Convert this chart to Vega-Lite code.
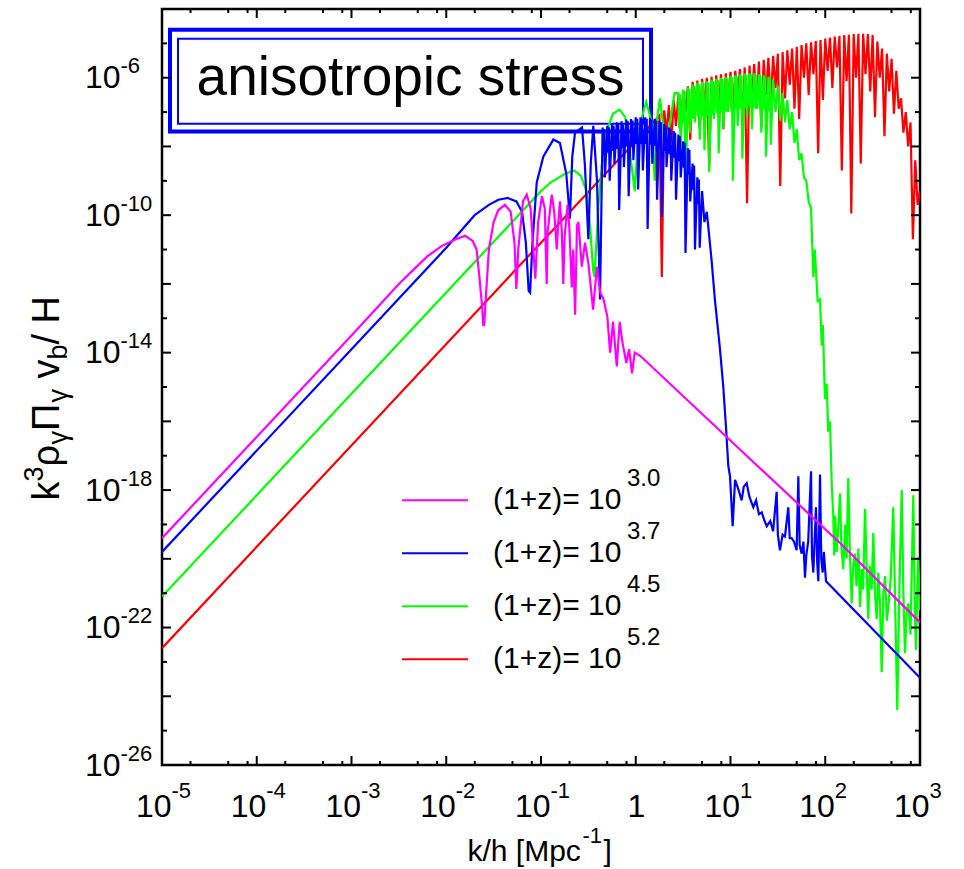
{
"$schema": "https://vega.github.io/schema/vega-lite/v6.json",
"width": 758, "height": 756,
"autosize": {"type": "none"},
"padding": {"left": 162, "top": 9, "right": 44, "bottom": 104},
"background": "white",
"config": {"font": "Liberation Sans", "view": {"stroke": "black", "strokeWidth": 2.5}, "axis": {"labelColor": "black", "titleColor": "black", "tickColor": "black", "grid": false, "titleFontWeight": "normal", "labelFont": "Liberation Sans", "titleFont": "Liberation Sans"}, "legend": {"labelColor": "black", "labelFont": "Liberation Sans"}},
"datasets": {
"exps": [{"e":"3.0"},{"e":"3.7"},{"e":"4.5"},{"e":"5.2"}],
"xmaj": [{"t":1e-5},{"t":1e-4},{"t":1e-3},{"t":0.01},{"t":0.1},{"t":1},{"t":10},{"t":100},{"t":1000}],
"xmin": [{"t":2e-5},{"t":5e-5},{"t":8e-5},{"t":2e-4},{"t":5e-4},{"t":8e-4},{"t":0.002},{"t":0.005},{"t":0.008},{"t":0.02},{"t":0.05},{"t":0.08},{"t":0.2},{"t":0.5},{"t":0.8},{"t":2},{"t":5},{"t":8},{"t":20},{"t":50},{"t":80},{"t":200},{"t":500},{"t":800}],
"ymaj": [{"t":1e-26},{"t":1e-24},{"t":1e-22},{"t":1e-20},{"t":1e-18},{"t":1e-16},{"t":1e-14},{"t":1e-12},{"t":1e-10},{"t":1e-8},{"t":1e-6},{"t":1e-4}],
"ymin": [{"t":1e-25},{"t":1e-23},{"t":1e-21},{"t":1e-19},{"t":1e-17},{"t":1e-15},{"t":1e-13},{"t":1e-11},{"t":1e-9},{"t":1e-7},{"t":1e-5}],
"curves": [
{"z":"5.2","k":1e-5,"v":2.512e-23},{"z":"5.2","k":0.1,"v":1.585e-11},{"z":"5.2","k":0.3162,"v":4.732e-10},{"z":"5.2","k":1,"v":1.413e-8},
{"z":"5.2","k":1.778,"v":7.943e-8},{"z":"5.2","k":1.884,"v":1.585e-12},{"z":"5.2","k":1.995,"v":1.122e-7},{"z":"5.2","k":2.113,"v":2.512e-8},{"z":"5.2","k":2.239,"v":1.585e-7},{"z":"5.2","k":2.371,"v":1.259e-8},{"z":"5.2","k":2.512,"v":2.239e-7},{"z":"5.2","k":2.661,"v":3.981e-8},{"z":"5.2","k":2.818,"v":3.162e-7},{"z":"5.2","k":2.985,"v":2.512e-8},
{"z":"5.2","k":3.162,"v":4.467e-7},{"z":"5.2","k":3.35,"v":1e-7},{"z":"5.2","k":3.548,"v":5.623e-7},{"z":"5.2","k":3.758,"v":1.585e-8},{"z":"5.2","k":3.981,"v":7.586e-7},{"z":"5.2","k":4.217,"v":1.259e-7},{"z":"5.2","k":4.467,"v":8.318e-7},{"z":"5.2","k":4.732,"v":3.162e-8},{"z":"5.2","k":5.012,"v":9.333e-7},{"z":"5.2","k":5.309,"v":1.585e-7},
{"z":"5.2","k":5.623,"v":1e-6},{"z":"5.2","k":5.957,"v":2.512e-9},{"z":"5.2","k":6.31,"v":1.072e-6},{"z":"5.2","k":6.683,"v":1.259e-7},{"z":"5.2","k":7.079,"v":1.175e-6},{"z":"5.2","k":7.499,"v":1e-7},{"z":"5.2","k":7.943,"v":1.259e-6},{"z":"5.2","k":8.414,"v":3.162e-8},{"z":"5.2","k":8.913,"v":1.349e-6},{"z":"5.2","k":9.441,"v":2.512e-7},
{"z":"5.2","k":10,"v":1.479e-6},{"z":"5.2","k":10.59,"v":7.943e-8},{"z":"5.2","k":11.22,"v":1.585e-6},{"z":"5.2","k":11.89,"v":3.162e-7},{"z":"5.2","k":12.59,"v":1.778e-6},{"z":"5.2","k":13.34,"v":6.31e-8},{"z":"5.2","k":14.13,"v":1.995e-6},{"z":"5.2","k":14.96,"v":2.239e-10},{"z":"5.2","k":15.85,"v":2.239e-6},{"z":"5.2","k":16.79,"v":2.512e-7},
{"z":"5.2","k":17.78,"v":2.512e-6},{"z":"5.2","k":18.84,"v":1.259e-7},{"z":"5.2","k":19.95,"v":2.951e-6},{"z":"5.2","k":21.13,"v":3.548e-8},{"z":"5.2","k":22.39,"v":3.311e-6},{"z":"5.2","k":23.71,"v":3.162e-7},{"z":"5.2","k":25.12,"v":3.802e-6},{"z":"5.2","k":26.61,"v":1.585e-7},{"z":"5.2","k":28.18,"v":4.365e-6},{"z":"5.2","k":29.85,"v":5.012e-7},
{"z":"5.2","k":31.62,"v":5.012e-6},{"z":"5.2","k":33.5,"v":7.079e-10},{"z":"5.2","k":35.48,"v":5.623e-6},{"z":"5.2","k":37.58,"v":2.512e-7},{"z":"5.2","k":39.81,"v":6.31e-6},{"z":"5.2","k":42.17,"v":6.31e-7},{"z":"5.2","k":44.67,"v":7.079e-6},{"z":"5.2","k":47.32,"v":1.259e-7},{"z":"5.2","k":50.12,"v":7.943e-6},{"z":"5.2","k":53.09,"v":6.31e-8},
{"z":"5.2","k":56.23,"v":8.913e-6},{"z":"5.2","k":59.57,"v":1e-6},{"z":"5.2","k":63.1,"v":1e-5},{"z":"5.2","k":66.83,"v":3.162e-7},{"z":"5.2","k":70.79,"v":1.072e-5},{"z":"5.2","k":74.99,"v":1.259e-6},{"z":"5.2","k":79.43,"v":1.175e-5},{"z":"5.2","k":84.14,"v":6.31e-9},{"z":"5.2","k":89.13,"v":1.259e-5},{"z":"5.2","k":94.41,"v":2.239e-7},
{"z":"5.2","k":100,"v":1.38e-5},{"z":"5.2","k":105.9,"v":1.585e-6},{"z":"5.2","k":112.2,"v":1.479e-5},{"z":"5.2","k":118.9,"v":5.012e-7},{"z":"5.2","k":125.9,"v":1.585e-5},{"z":"5.2","k":133.4,"v":1.995e-6},{"z":"5.2","k":141.3,"v":1.66e-5},{"z":"5.2","k":149.6,"v":1.995e-9},{"z":"5.2","k":158.5,"v":1.738e-5},{"z":"5.2","k":167.9,"v":7.943e-7},
{"z":"5.2","k":177.8,"v":1.778e-5},{"z":"5.2","k":188.4,"v":1.122e-10},{"z":"5.2","k":199.5,"v":1.862e-5},{"z":"5.2","k":211.3,"v":1e-6},{"z":"5.2","k":223.9,"v":1.905e-5},{"z":"5.2","k":237.1,"v":3.162e-9},{"z":"5.2","k":251.2,"v":1.905e-5},{"z":"5.2","k":266.1,"v":1.259e-6},{"z":"5.2","k":281.8,"v":1.862e-5},{"z":"5.2","k":298.5,"v":3.981e-7},
{"z":"5.2","k":316.2,"v":1.738e-5},{"z":"5.2","k":335,"v":7.079e-8},{"z":"5.2","k":354.8,"v":1.122e-5},{"z":"5.2","k":375.8,"v":1e-6},{"z":"5.2","k":398.1,"v":7.079e-6},{"z":"5.2","k":421.7,"v":1.995e-8},{"z":"5.2","k":446.7,"v":5.012e-6},{"z":"5.2","k":473.2,"v":3.981e-7},{"z":"5.2","k":501.2,"v":3.548e-6},{"z":"5.2","k":530.9,"v":8.913e-8},
{"z":"5.2","k":562.3,"v":1.585e-6},{"z":"5.2","k":595.7,"v":1.259e-7},{"z":"5.2","k":631,"v":2.512e-7},{"z":"5.2","k":668.3,"v":2.512e-8},{"z":"5.2","k":707.9,"v":1e-7},{"z":"5.2","k":749.9,"v":1e-8},{"z":"5.2","k":794.3,"v":5.012e-8},{"z":"5.2","k":841.4,"v":1.995e-11},{"z":"5.2","k":891.3,"v":3.981e-9},{"z":"5.2","k":944.1,"v":1.995e-10},{"z":"5.2","k":1000,"v":5.012e-10},

{"z":"4.5","k":1e-5,"v":7.943e-22},{"z":"4.5","k":1e-3,"v":6.31e-16},{"z":"4.5","k":0.1,"v":5.012e-10},{"z":"4.5","k":0.1259,"v":8.913e-10},{"z":"4.5","k":0.1778,"v":1.585e-9},{"z":"4.5","k":0.2239,"v":1.995e-9},{"z":"4.5","k":0.263,"v":1.413e-9},{"z":"4.5","k":0.302,"v":5.012e-10},{"z":"4.5","k":0.3311,"v":3.981e-11},{"z":"4.5","k":0.3548,"v":2.512e-12},
{"z":"4.5","k":0.3673,"v":1.585e-12},{"z":"4.5","k":0.4027,"v":1.778e-10},{"z":"4.5","k":0.4467,"v":5.012e-9},{"z":"4.5","k":0.5012,"v":3.162e-8},{"z":"4.5","k":0.5754,"v":8.913e-8},{"z":"4.5","k":0.6761,"v":1.175e-7},{"z":"4.5","k":0.7762,"v":7.079e-8},{"z":"4.5","k":0.8511,"v":1e-8},{"z":"4.5","k":0.9772,"v":5.012e-10},{"z":"4.5","k":1.072,"v":3.162e-8},
{"z":"4.5","k":1.288,"v":1.995e-7},{"z":"4.5","k":1.479,"v":5.012e-8},{"z":"4.5","k":1.585,"v":1e-9},{"z":"4.5","k":1.679,"v":6.31e-8},{"z":"4.5","k":1.8,"v":2.512e-7},{"z":"4.5","k":1.95,"v":3.981e-8},{"z":"4.5","k":2.042,"v":6.31e-9},{"z":"4.5","k":2.57,"v":3.548e-7},
{"z":"4.5","k":2.818,"v":3.548e-7},{"z":"4.5","k":2.985,"v":1e-8},{"z":"4.5","k":3.162,"v":4.467e-7},{"z":"4.5","k":3.35,"v":2.818e-10},{"z":"4.5","k":3.548,"v":5.248e-7},{"z":"4.5","k":3.758,"v":2.512e-8},{"z":"4.5","k":3.981,"v":6.31e-7},{"z":"4.5","k":4.217,"v":5.012e-8},{"z":"4.5","k":4.467,"v":7.079e-7},{"z":"4.5","k":4.732,"v":1.585e-8},
{"z":"4.5","k":5.012,"v":7.586e-7},{"z":"4.5","k":5.309,"v":7.943e-9},{"z":"4.5","k":5.623,"v":7.943e-7},{"z":"4.5","k":5.957,"v":1.778e-9},{"z":"4.5","k":6.31,"v":8.71e-7},{"z":"4.5","k":6.683,"v":6.31e-8},{"z":"4.5","k":7.079,"v":9.333e-7},{"z":"4.5","k":7.499,"v":6.31e-9},{"z":"4.5","k":7.943,"v":1e-6},{"z":"4.5","k":8.414,"v":3.162e-8},
{"z":"4.5","k":8.913,"v":1.047e-6},{"z":"4.5","k":9.441,"v":1e-7},{"z":"4.5","k":10,"v":1.122e-6},{"z":"4.5","k":10.59,"v":1e-9},{"z":"4.5","k":11.22,"v":1.175e-6},{"z":"4.5","k":11.89,"v":3.981e-8},{"z":"4.5","k":12.59,"v":1.259e-6},{"z":"4.5","k":13.34,"v":4.467e-9},{"z":"4.5","k":14.13,"v":1.318e-6},{"z":"4.5","k":14.96,"v":7.943e-8},
{"z":"4.5","k":15.85,"v":1.349e-6},{"z":"4.5","k":16.79,"v":3.162e-8},{"z":"4.5","k":17.78,"v":1.349e-6},{"z":"4.5","k":18.84,"v":1.259e-7},{"z":"4.5","k":19.95,"v":1.259e-6},{"z":"4.5","k":21.13,"v":2.512e-8},{"z":"4.5","k":22.39,"v":1.175e-6},{"z":"4.5","k":23.71,"v":5.012e-9},{"z":"4.5","k":25.12,"v":1.072e-6},{"z":"4.5","k":26.61,"v":1.122e-8},
{"z":"4.5","k":28.18,"v":8.913e-7},{"z":"4.5","k":29.85,"v":1e-7},{"z":"4.5","k":31.62,"v":5.623e-7},{"z":"4.5","k":33.5,"v":5.623e-8},{"z":"4.5","k":35.48,"v":3.548e-7},{"z":"4.5","k":37.58,"v":5.012e-8},{"z":"4.5","k":39.81,"v":2.239e-7},{"z":"4.5","k":42.17,"v":3.162e-8},{"z":"4.5","k":44.67,"v":1e-7},{"z":"4.5","k":47.32,"v":1.259e-8},
{"z":"4.5","k":50.12,"v":3.162e-8},{"z":"4.5","k":53.09,"v":3.981e-9},{"z":"4.5","k":56.23,"v":6.31e-9},{"z":"4.5","k":59.57,"v":1.259e-9},{"z":"4.5","k":63.1,"v":1e-9},{"z":"4.5","k":66.83,"v":2.512e-10},{"z":"4.5","k":70.79,"v":1.585e-10},
{"z":"4.5","k":2.87,"v":3.5e-8},{"z":"4.5","k":2.924,"v":3.3e-7},{"z":"4.5","k":3.221,"v":4.5e-8},{"z":"4.5","k":3.281,"v":4.1e-7},{"z":"4.5","k":3.614,"v":5.2e-8},{"z":"4.5","k":3.681,"v":4.8e-7},{"z":"4.5","k":4.055,"v":6.3e-8},{"z":"4.5","k":4.13,"v":5.8e-7},{"z":"4.5","k":4.55,"v":7.1e-8},{"z":"4.5","k":4.635,"v":6.5e-7},
{"z":"4.5","k":5.105,"v":7.6e-8},{"z":"4.5","k":5.2,"v":7e-7},{"z":"4.5","k":5.728,"v":7.9e-8},{"z":"4.5","k":5.834,"v":7.3e-7},{"z":"4.5","k":6.427,"v":8.7e-8},{"z":"4.5","k":6.547,"v":8e-7},{"z":"4.5","k":7.211,"v":9.3e-8},{"z":"4.5","k":7.344,"v":8.6e-7},{"z":"4.5","k":8.091,"v":1e-7},{"z":"4.5","k":8.241,"v":9.2e-7},
{"z":"4.5","k":9.079,"v":1.05e-7},{"z":"4.5","k":9.247,"v":9.6e-7},{"z":"4.5","k":10.19,"v":1.1e-7},{"z":"4.5","k":10.37,"v":1.03e-6},{"z":"4.5","k":11.43,"v":1.2e-7},{"z":"4.5","k":11.64,"v":1.08e-6},{"z":"4.5","k":12.82,"v":1.26e-7},{"z":"4.5","k":13.06,"v":1.16e-6},{"z":"4.5","k":14.39,"v":1.3e-7},{"z":"4.5","k":14.66,"v":1.21e-6},
{"z":"4.5","k":16.14,"v":1.35e-7},{"z":"4.5","k":16.44,"v":1.24e-6},{"z":"4.5","k":18.11,"v":1.35e-7},{"z":"4.5","k":18.45,"v":1.24e-6},{"z":"4.5","k":20.32,"v":1.26e-7},{"z":"4.5","k":20.7,"v":1.16e-6},{"z":"4.5","k":22.81,"v":1.2e-7},{"z":"4.5","k":23.23,"v":1.08e-6},{"z":"4.5","k":25.59,"v":1.07e-7},{"z":"4.5","k":26.06,"v":9.9e-7},
{"z":"4.5","k":74.82,"v":1.585e-12},{"z":"4.5","k":77.62,"v":1e-11},{"z":"4.5","k":83.18,"v":3.162e-13},{"z":"4.5","k":88.1,"v":3.548e-13},{"z":"4.5","k":91.83,"v":1.585e-14},{"z":"4.5","k":94.41,"v":6.31e-14},{"z":"4.5","k":99.31,"v":4.467e-16},{"z":"4.5","k":103.5,"v":1.259e-15},{"z":"4.5","k":107.6,"v":5.012e-17},{"z":"4.5","k":112.2,"v":1e-16},{"z":"4.5","k":117,"v":1.585e-18},{"z":"4.5","k":121.6,"v":1.778e-19},
{"z":"4.5","k":124.5,"v":1.259e-20},{"z":"4.5","k":126.8,"v":1.778e-19},{"z":"4.5","k":131.8,"v":1.585e-20},{"z":"4.5","k":136.5,"v":6.31e-20},{"z":"4.5","k":143.2,"v":7.943e-19},{"z":"4.5","k":147.9,"v":2.512e-20},{"z":"4.5","k":154.9,"v":5.012e-21},{"z":"4.5","k":162.2,"v":1e-19},{"z":"4.5","k":167.9,"v":1e-20},{"z":"4.5","k":175,"v":2.239e-18},
{"z":"4.5","k":182,"v":1.585e-20},{"z":"4.5","k":190.1,"v":5.012e-22},{"z":"4.5","k":197.2,"v":6.31e-21},{"z":"4.5","k":206.1,"v":1.413e-20},{"z":"4.5","k":213.8,"v":1.585e-21},{"z":"4.5","k":223.9,"v":1.995e-20},{"z":"4.5","k":232.8,"v":3.981e-22},{"z":"4.5","k":242.7,"v":5.012e-21},{"z":"4.5","k":251.2,"v":1.259e-21},{"z":"4.5","k":263,"v":2.818e-19},
{"z":"4.5","k":275.4,"v":3.162e-21},{"z":"4.5","k":284.4,"v":1.778e-22},{"z":"4.5","k":295.1,"v":6.31e-21},{"z":"4.5","k":309,"v":1.259e-21},{"z":"4.5","k":321.4,"v":5.623e-20},{"z":"4.5","k":335,"v":1e-21},{"z":"4.5","k":349.1,"v":1.778e-22},{"z":"4.5","k":363.1,"v":3.981e-21},{"z":"4.5","k":378.4,"v":5.012e-22},{"z":"4.5","k":394.5,"v":5.012e-24},
{"z":"4.5","k":410.2,"v":1e-21},{"z":"4.5","k":427.6,"v":3.162e-21},{"z":"4.5","k":446.7,"v":1.585e-22},{"z":"4.5","k":463.4,"v":3.981e-22},{"z":"4.5","k":489.8,"v":2.512e-21},{"z":"4.5","k":522.4,"v":3.162e-19},{"z":"4.5","k":549.5,"v":2.512e-22},{"z":"4.5","k":575.4,"v":3.981e-25},{"z":"4.5","k":602.6,"v":6.31e-22},{"z":"4.5","k":641.2,"v":1e-18},
{"z":"4.5","k":668.3,"v":1e-21},{"z":"4.5","k":695,"v":1.778e-23},{"z":"4.5","k":724.4,"v":3.162e-22},{"z":"4.5","k":753.4,"v":5.012e-22},{"z":"4.5","k":794.3,"v":6.31e-23},{"z":"4.5","k":849.2,"v":7.079e-19},{"z":"4.5","k":881,"v":3.162e-22},{"z":"4.5","k":907.8,"v":2.239e-23},{"z":"4.5","k":933.3,"v":1e-21},{"z":"4.5","k":959.4,"v":1.122e-20},{"z":"4.5","k":1000,"v":3.162e-22},

{"z":"3.7","k":1e-5,"v":1.585e-20},{"z":"3.7","k":1e-3,"v":1.259e-14},{"z":"3.7","k":0.01,"v":1.122e-11},{"z":"3.7","k":0.01995,"v":1e-10},{"z":"3.7","k":0.02818,"v":1.995e-10},{"z":"3.7","k":0.03548,"v":2.818e-10},{"z":"3.7","k":0.04467,"v":3.162e-10},{"z":"3.7","k":0.05495,"v":2.512e-10},{"z":"3.7","k":0.0631,"v":1.259e-10},{"z":"3.7","k":0.06918,"v":1.585e-11},
{"z":"3.7","k":0.07413,"v":6.31e-13},{"z":"3.7","k":0.07674,"v":5.623e-13},{"z":"3.7","k":0.08128,"v":1.585e-11},{"z":"3.7","k":0.09016,"v":8.913e-10},{"z":"3.7","k":0.1057,"v":5.012e-9},{"z":"3.7","k":0.1349,"v":1.585e-8},{"z":"3.7","k":0.1585,"v":1.259e-8},{"z":"3.7","k":0.185,"v":1.585e-9},{"z":"3.7","k":0.2018,"v":7.943e-11},{"z":"3.7","k":0.2138,"v":5.012e-9},
{"z":"3.7","k":0.2286,"v":2.512e-8},{"z":"3.7","k":0.271,"v":3.548e-8},{"z":"3.7","k":0.29,"v":3.162e-9},{"z":"3.7","k":0.3162,"v":1.995e-11},{"z":"3.7","k":0.335,"v":3.162e-9},{"z":"3.7","k":0.3565,"v":3.981e-8},{"z":"3.7","k":0.39,"v":1e-9},{"z":"3.7","k":0.4198,"v":3.548e-13},
{"z":"3.7","k":0.4467,"v":3.548e-8},{"z":"3.7","k":0.4732,"v":1.259e-9},{"z":"3.7","k":0.5012,"v":3.981e-8},{"z":"3.7","k":0.5309,"v":1e-9},{"z":"3.7","k":0.5623,"v":4.467e-8},{"z":"3.7","k":0.5957,"v":3.162e-9},{"z":"3.7","k":0.631,"v":5.012e-8},{"z":"3.7","k":0.6683,"v":1.413e-10},{"z":"3.7","k":0.7079,"v":5.37e-8},{"z":"3.7","k":0.7499,"v":2.512e-9},
{"z":"3.7","k":0.7943,"v":6.026e-8},{"z":"3.7","k":0.8414,"v":3.548e-10},{"z":"3.7","k":0.8913,"v":6.31e-8},{"z":"3.7","k":0.9441,"v":3.981e-9},{"z":"3.7","k":1,"v":7.079e-8},{"z":"3.7","k":1.059,"v":5.623e-10},{"z":"3.7","k":1.122,"v":7.079e-8},{"z":"3.7","k":1.189,"v":1.995e-9},{"z":"3.7","k":1.259,"v":7.079e-8},{"z":"3.7","k":1.334,"v":3.981e-11},
{"z":"3.7","k":1.413,"v":6.761e-8},{"z":"3.7","k":1.496,"v":3.162e-9},{"z":"3.7","k":1.585,"v":6.31e-8},{"z":"3.7","k":1.679,"v":2.818e-10},{"z":"3.7","k":1.778,"v":5.623e-8},{"z":"3.7","k":1.884,"v":8.913e-11},{"z":"3.7","k":1.995,"v":4.467e-8},{"z":"3.7","k":2.113,"v":2.512e-9},{"z":"3.7","k":2.239,"v":3.548e-8},{"z":"3.7","k":2.371,"v":1e-9},
{"z":"3.7","k":2.512,"v":2.818e-8},{"z":"3.7","k":2.661,"v":2.818e-10},{"z":"3.7","k":2.818,"v":2.239e-8},{"z":"3.7","k":2.985,"v":1.259e-9},{"z":"3.7","k":3.162,"v":1.413e-8},{"z":"3.7","k":3.35,"v":7.943e-12},{"z":"3.7","k":3.548,"v":8.913e-9},{"z":"3.7","k":3.758,"v":2.512e-10},{"z":"3.7","k":3.981,"v":3.162e-9},{"z":"3.7","k":4.217,"v":1e-11},
{"z":"3.7","k":4.467,"v":1.259e-9},{"z":"3.7","k":4.732,"v":1.122e-11},{"z":"3.7","k":5.012,"v":5.012e-10},{"z":"3.7","k":5.309,"v":6.31e-11},{"z":"3.7","k":5.623,"v":1.259e-10},{"z":"3.7","k":5.957,"v":2.512e-11},{"z":"3.7","k":6.31,"v":5.012e-12},
{"z":"3.7","k":0.455,"v":5.9e-9},{"z":"3.7","k":0.4634,"v":3.2e-8},{"z":"3.7","k":0.5105,"v":6.6e-9},{"z":"3.7","k":0.52,"v":3.6e-8},{"z":"3.7","k":0.5728,"v":7.4e-9},{"z":"3.7","k":0.5834,"v":4e-8},{"z":"3.7","k":0.6427,"v":8.4e-9},{"z":"3.7","k":0.6547,"v":4.5e-8},{"z":"3.7","k":0.7211,"v":9e-9},{"z":"3.7","k":0.7344,"v":4.8e-8},
{"z":"3.7","k":0.8091,"v":1e-8},{"z":"3.7","k":0.8241,"v":5.4e-8},{"z":"3.7","k":0.9079,"v":1.05e-8},{"z":"3.7","k":0.9247,"v":5.7e-8},{"z":"3.7","k":1.019,"v":1.18e-8},{"z":"3.7","k":1.037,"v":6.4e-8},{"z":"3.7","k":1.143,"v":1.18e-8},{"z":"3.7","k":1.164,"v":6.4e-8},{"z":"3.7","k":1.282,"v":1.18e-8},{"z":"3.7","k":1.306,"v":6.4e-8},
{"z":"3.7","k":1.439,"v":1.13e-8},{"z":"3.7","k":1.466,"v":6.1e-8},{"z":"3.7","k":1.614,"v":1.05e-8},{"z":"3.7","k":1.644,"v":5.7e-8},{"z":"3.7","k":1.811,"v":9.4e-9},{"z":"3.7","k":1.845,"v":5.1e-8},{"z":"3.7","k":2.032,"v":7.4e-9},{"z":"3.7","k":2.07,"v":4e-8},{"z":"3.7","k":2.281,"v":5.9e-9},{"z":"3.7","k":2.323,"v":3.2e-8},
{"z":"3.7","k":2.559,"v":4.7e-9},{"z":"3.7","k":2.606,"v":2.5e-8},{"z":"3.7","k":2.87,"v":3.7e-9},{"z":"3.7","k":2.924,"v":2e-8},{"z":"3.7","k":3.221,"v":2.4e-9},{"z":"3.7","k":3.281,"v":1.3e-8},{"z":"3.7","k":3.614,"v":1.5e-9},{"z":"3.7","k":3.681,"v":8e-9},{"z":"3.7","k":4.055,"v":5.3e-10},{"z":"3.7","k":4.13,"v":2.8e-9},
{"z":"3.7","k":4.55,"v":2.1e-10},{"z":"3.7","k":4.635,"v":1.1e-9},
{"z":"3.7","k":6.839,"v":3.548e-13},{"z":"3.7","k":7.745,"v":1.259e-14},{"z":"3.7","k":8.395,"v":1e-15},{"z":"3.7","k":8.954,"v":7.079e-17},{"z":"3.7","k":9.484,"v":5.012e-18},{"z":"3.7","k":9.886,"v":2.512e-18},{"z":"3.7","k":10.54,"v":8.913e-20},
{"z":"3.7","k":11.17,"v":1.995e-18},{"z":"3.7","k":12.02,"v":1.122e-18},{"z":"3.7","k":13.12,"v":5.012e-19},{"z":"3.7","k":13.8,"v":1.259e-18},{"z":"3.7","k":14.83,"v":1.585e-18},{"z":"3.7","k":15.85,"v":6.31e-19},{"z":"3.7","k":17.42,"v":3.162e-19},{"z":"3.7","k":18.62,"v":5.012e-19},{"z":"3.7","k":19.95,"v":1.995e-19},{"z":"3.7","k":21.38,"v":2.239e-19},
{"z":"3.7","k":22.91,"v":1.259e-19},{"z":"3.7","k":24.15,"v":8.913e-20},{"z":"3.7","k":26.3,"v":1.259e-19},{"z":"3.7","k":28.18,"v":6.31e-20},{"z":"3.7","k":30.69,"v":8.913e-19},{"z":"3.7","k":31.62,"v":5.012e-20},{"z":"3.7","k":33.27,"v":1.778e-20},{"z":"3.7","k":35.48,"v":5.012e-20},{"z":"3.7","k":37.58,"v":4.467e-20},{"z":"3.7","k":40.74,"v":3.162e-19},
{"z":"3.7","k":42.17,"v":3.981e-20},{"z":"3.7","k":44.16,"v":3.981e-20},{"z":"3.7","k":46.77,"v":3.162e-20},{"z":"3.7","k":49.89,"v":1.778e-20},{"z":"3.7","k":52,"v":2.512e-18},{"z":"3.7","k":53.7,"v":2.512e-20},{"z":"3.7","k":56.36,"v":1.413e-20},{"z":"3.7","k":58.88,"v":3.162e-20},{"z":"3.7","k":61.09,"v":2.818e-21},{"z":"3.7","k":63.1,"v":1.259e-20},
{"z":"3.7","k":66.07,"v":3.162e-20},{"z":"3.7","k":70.79,"v":3.548e-18},{"z":"3.7","k":72.44,"v":1.259e-20},{"z":"3.7","k":74.82,"v":3.981e-21},{"z":"3.7","k":79.8,"v":3.162e-19},{"z":"3.7","k":82.22,"v":7.943e-21},{"z":"3.7","k":84.53,"v":2.239e-21},{"z":"3.7","k":88.1,"v":2.818e-18},{"z":"3.7","k":90.78,"v":1e-20},{"z":"3.7","k":93.97,"v":3.981e-21},
{"z":"3.7","k":96.6,"v":1.585e-20},{"z":"3.7","k":101.9,"v":2.239e-21},{"z":"3.7","k":1000,"v":3.467e-24},

{"z":"3.0","k":1e-5,"v":3.981e-20},{"z":"3.0","k":1e-3,"v":3.162e-14},{"z":"3.0","k":3.162e-3,"v":1e-12},{"z":"3.0","k":4.467e-3,"v":2.512e-12},{"z":"3.0","k":6.31e-3,"v":6.31e-12},{"z":"3.0","k":8.913e-3,"v":1.259e-11},{"z":"3.0","k":0.01259,"v":1.995e-11},{"z":"3.0","k":0.01585,"v":2.512e-11},{"z":"3.0","k":0.01905,"v":1.778e-11},{"z":"3.0","k":0.02089,"v":1e-11},
{"z":"3.0","k":0.02239,"v":1.585e-12},{"z":"3.0","k":0.02399,"v":1.995e-13},{"z":"3.0","k":0.02455,"v":6.31e-14},{"z":"3.0","k":0.02512,"v":6.31e-14},{"z":"3.0","k":0.0263,"v":5.012e-13},{"z":"3.0","k":0.02818,"v":1e-11},{"z":"3.0","k":0.03162,"v":6.31e-11},{"z":"3.0","k":0.03548,"v":1.413e-10},{"z":"3.0","k":0.04169,"v":1.995e-10},{"z":"3.0","k":0.04786,"v":1.259e-10},
{"z":"3.0","k":0.05248,"v":1.585e-11},{"z":"3.0","k":0.05495,"v":7.079e-13},{"z":"3.0","k":0.05754,"v":1e-11},{"z":"3.0","k":0.06457,"v":2.512e-10},{"z":"3.0","k":0.07079,"v":3.981e-10},{"z":"3.0","k":0.07762,"v":1.585e-10},{"z":"3.0","k":0.0871,"v":1.413e-12},{"z":"3.0","k":0.09333,"v":6.31e-11},{"z":"3.0","k":0.1023,"v":3.548e-10},{"z":"3.0","k":0.1096,"v":1.585e-10},
{"z":"3.0","k":0.1148,"v":1e-12},{"z":"3.0","k":0.1175,"v":3.162e-11},{"z":"3.0","k":0.1297,"v":3.981e-10},{"z":"3.0","k":0.138,"v":1.259e-10},{"z":"3.0","k":0.1466,"v":1e-11},{"z":"3.0","k":0.1514,"v":5.012e-11},{"z":"3.0","k":0.1585,"v":2.512e-10},{"z":"3.0","k":0.166,"v":3.162e-11},{"z":"3.0","k":0.1718,"v":1e-12},{"z":"3.0","k":0.1778,"v":2.512e-11},
{"z":"3.0","k":0.1905,"v":1.995e-10},{"z":"3.0","k":0.1995,"v":3.981e-11},{"z":"3.0","k":0.2113,"v":7.943e-13},{"z":"3.0","k":0.2188,"v":1e-11},{"z":"3.0","k":0.2291,"v":1.259e-13},{"z":"3.0","k":0.2399,"v":5.012e-11},{"z":"3.0","k":0.2483,"v":6.31e-11},{"z":"3.0","k":0.2692,"v":3.162e-12},{"z":"3.0","k":0.2917,"v":1.585e-11},{"z":"3.0","k":0.3162,"v":3.981e-12},
{"z":"3.0","k":0.3548,"v":1.778e-13},{"z":"3.0","k":0.389,"v":3.162e-12},{"z":"3.0","k":0.4217,"v":5.623e-13},{"z":"3.0","k":0.4571,"v":3.548e-13},{"z":"3.0","k":0.5012,"v":1.122e-13},{"z":"3.0","k":0.537,"v":1e-14},{"z":"3.0","k":0.5754,"v":7.943e-14},{"z":"3.0","k":0.631,"v":3.981e-15},{"z":"3.0","k":0.6761,"v":7.943e-14},{"z":"3.0","k":0.7244,"v":1.995e-14},
{"z":"3.0","k":0.7943,"v":5.012e-15},{"z":"3.0","k":0.8511,"v":1.259e-14},{"z":"3.0","k":0.912,"v":2.512e-15},{"z":"3.0","k":0.9772,"v":1e-14},{"z":"3.0","k":1.122,"v":7.943e-15},{"z":"3.0","k":12.59,"v":1.514e-17},{"z":"3.0","k":143.2,"v":2.884e-20},{"z":"3.0","k":1000,"v":1.413e-22}
]},
"layer": [
{"data": {"values": [{}]},
 "mark": {"type": "rect", "filled": false, "color": "#0000ff", "strokeWidth": 4},
 "encoding": {"x": {"datum": 1.2147e-5, "type": "quantitative", "scale": {"type": "log", "domain": [1e-5, 1000], "nice": false}, "axis": null}, "x2": {"datum": 1.449},
  "y": {"datum": 2.497e-5, "type": "quantitative", "scale": {"type": "log", "domain": [1e-26, 1e-4], "nice": false}, "axis": null}, "y2": {"datum": 2.74e-8}}},
{"data": {"values": [{}]},
 "mark": {"type": "rect", "filled": false, "color": "#0000ff", "strokeWidth": 2},
 "encoding": {"x": {"datum": 1.4757e-5, "type": "quantitative", "scale": {"type": "log", "domain": [1e-5, 1000], "nice": false}, "axis": null}, "x2": {"datum": 1.193},
  "y": {"datum": 1.366e-5, "type": "quantitative", "scale": {"type": "log", "domain": [1e-26, 1e-4], "nice": false}, "axis": null}, "y2": {"datum": 4.59e-8}}},
{"data": {"values": [{}]},
 "mark": {"type": "text", "text": "anisotropic stress", "fontSize": 55, "align": "center", "baseline": "alphabetic", "color": "black", "font": "Liberation Sans"},
 "encoding": {"x": {"datum": 4.2e-3, "type": "quantitative", "scale": {"type": "log", "domain": [1e-5, 1000], "nice": false}, "axis": null},
  "y": {"datum": 3.05e-7, "type": "quantitative", "scale": {"type": "log", "domain": [1e-26, 1e-4], "nice": false}, "axis": null}}},
{"data": {"name": "curves"},
 "mark": {"type": "line", "strokeWidth": 2.2, "clip": true},
 "encoding": {
  "x": {"field": "k", "type": "quantitative", "scale": {"type": "log", "domain": [1e-5, 1000], "nice": false},
   "axis": {"orient": "bottom", "values": [1e-5, 1e-4, 1e-3, 0.01, 0.1, 1, 10, 100, 1000], "labelExpr": "datum.value == 1 ? '1' : '10'", "ticks": false, "domain": false, "grid": false, "labelAlign": "right", "labelOffset": 9, "labelPadding": 26, "labelBaseline": "top", "labelFontSize": 32, "labelFlush": false, "labelOverlap": false, "title": null}},
  "y": {"field": "v", "type": "quantitative", "scale": {"type": "log", "domain": [1e-26, 1e-4], "nice": false},
   "axis": {"orient": "left", "values": [1e-26, 1e-22, 1e-18, 1e-14, 1e-10, 1e-6], "labelExpr": "'10'", "ticks": false, "domain": false, "grid": false, "labelAlign": "right", "labelBaseline": "middle", "labelPadding": 42, "labelFontSize": 32, "labelFlush": false, "labelOverlap": false, "title": null}},
  "color": {"field": "z", "type": "nominal", "scale": {"domain": ["3.0", "3.7", "4.5", "5.2"], "range": ["#ff00ff", "#0000ff", "#00ff00", "#ff0000"]},
   "legend": {"orient": "none", "legendX": 239, "legendY": 465, "title": null, "symbolType": "stroke", "symbolSize": 4356, "symbolStrokeWidth": 2, "labelExpr": "'(1+z)= 10'", "labelFontSize": 30, "labelOffset": 24, "clipHeight": 52.3, "rowPadding": 0, "padding": 0, "labelBaseline": "middle", "labelLimit": 0}}
 }},
{"data": {"name": "exps"},
 "mark": {"type": "point", "opacity": 0},
 "encoding": {
  "x": {"datum": 1, "type": "quantitative", "scale": {"type": "log", "domain": [1e-5, 1000], "nice": false},
   "axis": {"orient": "bottom", "values": [1e-5, 1e-4, 1e-3, 0.01, 0.1, 10, 100, 1000], "labelExpr": "replace(replace(format(datum.value, '.0e'), '1e', ''), '+', '')", "ticks": false, "domain": false, "grid": false, "labelAlign": "left", "labelOffset": 9, "labelPadding": 15, "labelBaseline": "top", "labelFontSize": 22, "labelFlush": false, "labelOverlap": false, "title": null}},
  "y": {"datum": 1e-10, "type": "quantitative", "scale": {"type": "log", "domain": [1e-26, 1e-4], "nice": false},
   "axis": {"orient": "left", "values": [1e-26, 1e-22, 1e-18, 1e-14, 1e-10, 1e-6], "labelExpr": "replace(replace(format(datum.value, '.0e'), '1e', ''), '+', '')", "ticks": false, "domain": false, "grid": false, "labelAlign": "left", "labelBaseline": "middle", "labelPadding": 42, "labelOffset": -12, "labelFontSize": 22, "labelFlush": false, "labelOverlap": false, "title": null}},
  "shape": {"field": "e", "type": "nominal",
   "legend": {"orient": "none", "legendX": 441, "legendY": 444, "title": null, "symbolOpacity": 0, "symbolSize": 1, "symbolStrokeWidth": 0, "labelFontSize": 24, "labelOffset": 0, "clipHeight": 52.3, "rowPadding": 0, "padding": 0, "labelBaseline": "middle"}}
 }},
{"data": {"name": "xmaj"},
 "mark": {"type": "tick", "orient": "vertical", "size": 18, "thickness": 2, "color": "black", "opacity": 1, "clip": true},
 "encoding": {"x": {"field": "t", "type": "quantitative", "scale": {"type": "log", "domain": [1e-5, 1000], "nice": false}, "axis": null},
  "y": {"datum": 1e-26, "type": "quantitative", "scale": {"type": "log", "domain": [1e-26, 1e-4], "nice": false}, "axis": null}}},
{"data": {"name": "xmaj"},
 "mark": {"type": "tick", "orient": "vertical", "size": 18, "thickness": 2, "color": "black", "opacity": 1, "clip": true},
 "encoding": {"x": {"field": "t", "type": "quantitative", "scale": {"type": "log", "domain": [1e-5, 1000], "nice": false}, "axis": null},
  "y": {"datum": 1e-4, "type": "quantitative", "scale": {"type": "log", "domain": [1e-26, 1e-4], "nice": false}, "axis": null}}},
{"data": {"name": "xmin"},
 "mark": {"type": "tick", "orient": "vertical", "size": 8, "thickness": 2, "color": "black", "opacity": 1, "clip": true},
 "encoding": {"x": {"field": "t", "type": "quantitative", "scale": {"type": "log", "domain": [1e-5, 1000], "nice": false}, "axis": null},
  "y": {"datum": 1e-26, "type": "quantitative", "scale": {"type": "log", "domain": [1e-26, 1e-4], "nice": false}, "axis": null}}},
{"data": {"name": "xmin"},
 "mark": {"type": "tick", "orient": "vertical", "size": 8, "thickness": 2, "color": "black", "opacity": 1, "clip": true},
 "encoding": {"x": {"field": "t", "type": "quantitative", "scale": {"type": "log", "domain": [1e-5, 1000], "nice": false}, "axis": null},
  "y": {"datum": 1e-4, "type": "quantitative", "scale": {"type": "log", "domain": [1e-26, 1e-4], "nice": false}, "axis": null}}},
{"data": {"name": "ymaj"},
 "mark": {"type": "tick", "orient": "horizontal", "size": 18, "thickness": 2, "color": "black", "opacity": 1, "clip": true},
 "encoding": {"y": {"field": "t", "type": "quantitative", "scale": {"type": "log", "domain": [1e-26, 1e-4], "nice": false}, "axis": null},
  "x": {"datum": 1e-5, "type": "quantitative", "scale": {"type": "log", "domain": [1e-5, 1000], "nice": false}, "axis": null}}},
{"data": {"name": "ymaj"},
 "mark": {"type": "tick", "orient": "horizontal", "size": 18, "thickness": 2, "color": "black", "opacity": 1, "clip": true},
 "encoding": {"y": {"field": "t", "type": "quantitative", "scale": {"type": "log", "domain": [1e-26, 1e-4], "nice": false}, "axis": null},
  "x": {"datum": 1000, "type": "quantitative", "scale": {"type": "log", "domain": [1e-5, 1000], "nice": false}, "axis": null}}},
{"data": {"name": "ymin"},
 "mark": {"type": "tick", "orient": "horizontal", "size": 10, "thickness": 2, "color": "black", "opacity": 1, "clip": true},
 "encoding": {"y": {"field": "t", "type": "quantitative", "scale": {"type": "log", "domain": [1e-26, 1e-4], "nice": false}, "axis": null},
  "x": {"datum": 1e-5, "type": "quantitative", "scale": {"type": "log", "domain": [1e-5, 1000], "nice": false}, "axis": null}}},
{"data": {"name": "ymin"},
 "mark": {"type": "tick", "orient": "horizontal", "size": 10, "thickness": 2, "color": "black", "opacity": 1, "clip": true},
 "encoding": {"y": {"field": "t", "type": "quantitative", "scale": {"type": "log", "domain": [1e-26, 1e-4], "nice": false}, "axis": null},
  "x": {"datum": 1000, "type": "quantitative", "scale": {"type": "log", "domain": [1e-5, 1000], "nice": false}, "axis": null}}},
{"mark": {"type": "point", "opacity": 0},
 "encoding": {
  "x": {"datum": 1, "type": "quantitative", "scale": {"type": "log", "domain": [1e-5, 1000], "nice": false},
   "axis": {"orient": "bottom", "labels": false, "ticks": false, "domain": false, "grid": false, "title": "k/h [Mpc", "titleX": 305, "titleY": 95, "titleAngle": 0, "titleAlign": "left", "titleBaseline": "alphabetic", "titleFontSize": 30}},
  "y": {"datum": 1e-10, "type": "quantitative", "scale": {"type": "log", "domain": [1e-26, 1e-4], "nice": false},
   "axis": {"orient": "left", "labels": false, "ticks": false, "domain": false, "grid": false, "title": "k", "titleX": -104, "titleY": 491, "titleAngle": -90, "titleAlign": "left", "titleBaseline": "alphabetic", "titleFontSize": 38}}
 }},
{"mark": {"type": "point", "opacity": 0},
 "encoding": {
  "x": {"datum": 1, "type": "quantitative", "scale": {"type": "log", "domain": [1e-5, 1000], "nice": false},
   "axis": {"orient": "bottom", "labels": false, "ticks": false, "domain": false, "grid": false, "title": "-1", "titleX": 420, "titleY": 77, "titleAngle": 0, "titleAlign": "left", "titleBaseline": "alphabetic", "titleFontSize": 22}},
  "y": {"datum": 1e-10, "type": "quantitative", "scale": {"type": "log", "domain": [1e-26, 1e-4], "nice": false},
   "axis": {"orient": "left", "labels": false, "ticks": false, "domain": false, "grid": false, "title": "3", "titleX": -120, "titleY": 472, "titleAngle": -90, "titleAlign": "left", "titleBaseline": "alphabetic", "titleFontSize": 27}}
 }},
{"mark": {"type": "point", "opacity": 0},
 "encoding": {
  "x": {"datum": 1, "type": "quantitative", "scale": {"type": "log", "domain": [1e-5, 1000], "nice": false},
   "axis": {"orient": "bottom", "labels": false, "ticks": false, "domain": false, "grid": false, "title": "]", "titleX": 441, "titleY": 95, "titleAngle": 0, "titleAlign": "left", "titleBaseline": "alphabetic", "titleFontSize": 30}},
  "y": {"datum": 1e-10, "type": "quantitative", "scale": {"type": "log", "domain": [1e-26, 1e-4], "nice": false},
   "axis": {"orient": "left", "labels": false, "ticks": false, "domain": false, "grid": false, "title": "ρ", "titleX": -104, "titleY": 457, "titleAngle": -90, "titleAlign": "left", "titleBaseline": "alphabetic", "titleFontSize": 38}}
 }},
{"mark": {"type": "point", "opacity": 0},
 "encoding": {
  "x": {"datum": 1, "type": "quantitative", "scale": {"type": "log", "domain": [1e-5, 1000], "nice": false}, "axis": null},
  "y": {"datum": 1e-10, "type": "quantitative", "scale": {"type": "log", "domain": [1e-26, 1e-4], "nice": false},
   "axis": {"orient": "left", "labels": false, "ticks": false, "domain": false, "grid": false, "title": "γ", "titleX": -96, "titleY": 435, "titleAngle": -90, "titleAlign": "left", "titleBaseline": "alphabetic", "titleFontSize": 27}}
 }},
{"mark": {"type": "point", "opacity": 0},
 "encoding": {
  "x": {"datum": 1, "type": "quantitative", "scale": {"type": "log", "domain": [1e-5, 1000], "nice": false}, "axis": null},
  "y": {"datum": 1e-10, "type": "quantitative", "scale": {"type": "log", "domain": [1e-26, 1e-4], "nice": false},
   "axis": {"orient": "left", "labels": false, "ticks": false, "domain": false, "grid": false, "title": "Π", "titleX": -104, "titleY": 421.5, "titleAngle": -90, "titleAlign": "left", "titleBaseline": "alphabetic", "titleFontSize": 38}}
 }},
{"mark": {"type": "point", "opacity": 0},
 "encoding": {
  "x": {"datum": 1, "type": "quantitative", "scale": {"type": "log", "domain": [1e-5, 1000], "nice": false}, "axis": null},
  "y": {"datum": 1e-10, "type": "quantitative", "scale": {"type": "log", "domain": [1e-26, 1e-4], "nice": false},
   "axis": {"orient": "left", "labels": false, "ticks": false, "domain": false, "grid": false, "title": "γ", "titleX": -96, "titleY": 393, "titleAngle": -90, "titleAlign": "left", "titleBaseline": "alphabetic", "titleFontSize": 27}}
 }},
{"mark": {"type": "point", "opacity": 0},
 "encoding": {
  "x": {"datum": 1, "type": "quantitative", "scale": {"type": "log", "domain": [1e-5, 1000], "nice": false}, "axis": null},
  "y": {"datum": 1e-10, "type": "quantitative", "scale": {"type": "log", "domain": [1e-26, 1e-4], "nice": false},
   "axis": {"orient": "left", "labels": false, "ticks": false, "domain": false, "grid": false, "title": "v", "titleX": -104, "titleY": 369, "titleAngle": -90, "titleAlign": "left", "titleBaseline": "alphabetic", "titleFontSize": 38}}
 }},
{"mark": {"type": "point", "opacity": 0},
 "encoding": {
  "x": {"datum": 1, "type": "quantitative", "scale": {"type": "log", "domain": [1e-5, 1000], "nice": false}, "axis": null},
  "y": {"datum": 1e-10, "type": "quantitative", "scale": {"type": "log", "domain": [1e-26, 1e-4], "nice": false},
   "axis": {"orient": "left", "labels": false, "ticks": false, "domain": false, "grid": false, "title": "b", "titleX": -96, "titleY": 350, "titleAngle": -90, "titleAlign": "left", "titleBaseline": "alphabetic", "titleFontSize": 27}}
 }},
{"mark": {"type": "point", "opacity": 0},
 "encoding": {
  "x": {"datum": 1, "type": "quantitative", "scale": {"type": "log", "domain": [1e-5, 1000], "nice": false}, "axis": null},
  "y": {"datum": 1e-10, "type": "quantitative", "scale": {"type": "log", "domain": [1e-26, 1e-4], "nice": false},
   "axis": {"orient": "left", "labels": false, "ticks": false, "domain": false, "grid": false, "title": "/ H", "titleX": -104, "titleY": 335, "titleAngle": -90, "titleAlign": "left", "titleBaseline": "alphabetic", "titleFontSize": 38}}
 }}
],
"resolve": {"axis": {"x": "independent", "y": "independent"}}
}
